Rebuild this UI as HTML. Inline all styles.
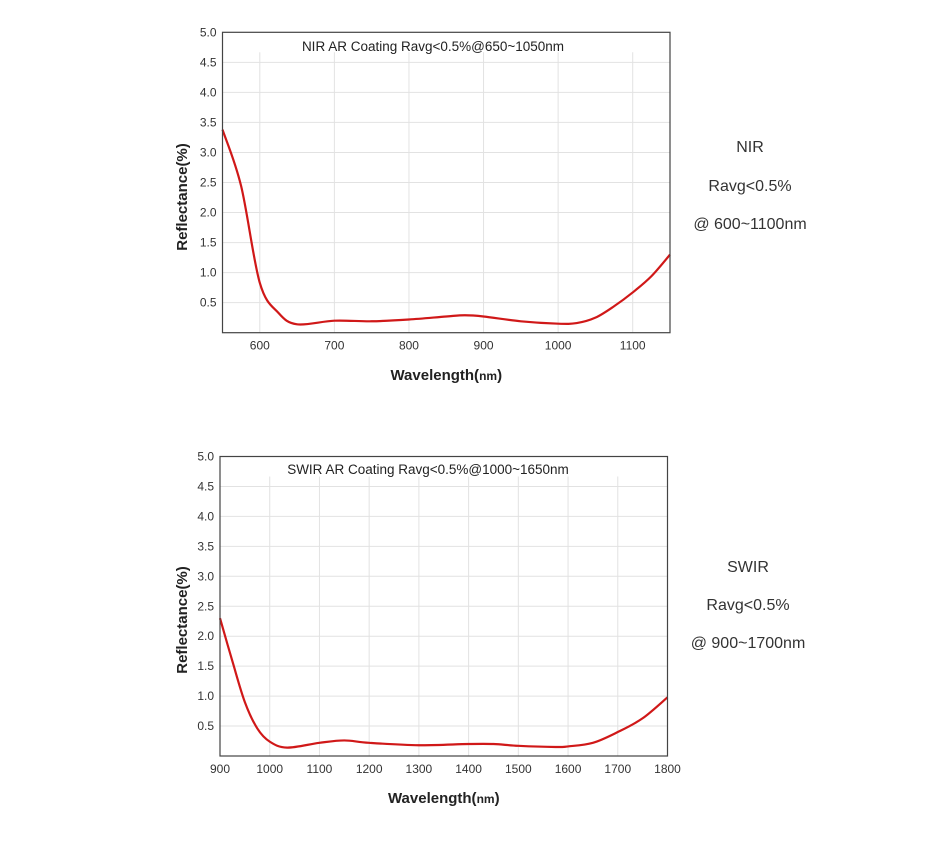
<!DOCTYPE html>
<html><head><meta charset="utf-8"><style>
body{margin:0;background:#fff;}
svg{display:block;font-family:"Liberation Sans",sans-serif;}
</style></head><body>
<svg id="root" width="948" height="846" viewBox="0 0 948 846">
<g id="c1"></g>
<g id="c2"></g>
<g font-size="16" fill="#333" text-anchor="middle">
<text x="750" y="152">NIR</text><text x="750" y="191">Ravg&lt;0.5%</text><text x="750" y="229">@ 600~1100nm</text></g>
<g font-size="16" fill="#333" text-anchor="middle">
<text x="748" y="572">SWIR</text><text x="748" y="610">Ravg&lt;0.5%</text><text x="748" y="648">@ 900~1700nm</text></g>
</svg>
<script>
const nirWl=[550,575,600,625,650,700,750,800,850,875,900,950,1000,1025,1050,1075,1100,1125,1150];
const nirR=[3.38,2.44,0.83,0.33,0.14,0.2,0.19,0.22,0.27,0.29,0.27,0.19,0.15,0.16,0.25,0.44,0.67,0.94,1.3];
const nirXTicks=[600,700,800,900,1000,1100];
const swirWl=[900,925,950,975,1000,1035,1100,1150,1200,1300,1400,1450,1500,1575,1600,1650,1700,1750,1800];
const swirR=[2.3,1.58,0.9,0.46,0.24,0.14,0.22,0.26,0.22,0.18,0.2,0.2,0.17,0.15,0.16,0.22,0.4,0.63,0.98];
const swirXTicks=[900,1000,1100,1200,1300,1400,1500,1600,1700,1800];
const yTicks=[0.5,1.0,1.5,2.0,2.5,3.0,3.5,4.0,4.5,5.0];
const NS='http://www.w3.org/2000/svg';
function mk(p,t,a){const e=document.createElementNS(NS,t);for(const k in a)e.setAttribute(k,a[k]);p.appendChild(e);return e;}
function draw(g,cfg){
 const {L,R,T,B,x0,x1,wl,r,xt,title,tx,ty,yTitleY,xTitleY}=cfg;
 const X=v=>L+(v-x0)/(x1-x0)*(R-L), Y=v=>B-v/5*(B-T);
 xt.forEach(v=>{if(v>x0&&v<x1){const l=mk(g,'line',{x1:X(v),x2:X(v),y1:T+20,y2:B,stroke:'#e2e2e2'});
 }});
 yTicks.forEach(v=>{if(v<5){const l=mk(g,'line',{x1:L,x2:R,y1:Y(v),y2:Y(v),stroke:'#e2e2e2'});
 }});
 yTicks.forEach(v=>{const t=mk(g,'text',{x:L-6,y:Y(v)+4,'text-anchor':'end','font-size':12,fill:'#333'});t.textContent=v.toFixed(1);
 });
 xt.forEach(v=>{const t=mk(g,'text',{x:X(v),y:B+17,'text-anchor':'middle','font-size':12,fill:'#333'});t.textContent=v;
 });
 const pts=wl.map((w,i)=>[X(w),Y(r[i])]);
 let d='M'+pts[0][0]+','+pts[0][1];
 for(let i=0;i<pts.length-1;i++){const p0=pts[Math.max(0,i-1)],p1=pts[i],p2=pts[i+1],p3=pts[Math.min(pts.length-1,i+2)];
  d+=' C'+(p1[0]+(p2[0]-p0[0])/6)+','+(p1[1]+(p2[1]-p0[1])/6)+' '+(p2[0]-(p3[0]-p1[0])/6)+','+(p2[1]-(p3[1]-p1[1])/6)+' '+p2[0]+','+p2[1];}
 const c=mk(g,'path',{d:d,fill:'none',stroke:'#d01818','stroke-width':2.2});
 
 const f=mk(g,'rect',{x:L,y:T,width:R-L,height:B-T,fill:'none',stroke:'#444','stroke-width':1.2});
 
 const ti=mk(g,'text',{x:tx,y:ty,'text-anchor':'middle','font-size':13.5,fill:'#222'});ti.textContent=title;
 
 const yt=mk(g,'text',{x:0,y:0,transform:'translate(187,'+yTitleY+') rotate(-90)','text-anchor':'middle','font-size':15,'font-weight':'bold',fill:'#222'});yt.textContent='Reflectance(%)';
 
 const xa=mk(g,'text',{x:(L+R)/2,y:xTitleY,'text-anchor':'middle','font-size':15,'font-weight':'bold',fill:'#222'});xa.innerHTML='Wavelength(<tspan font-size="12">nm</tspan>)';
 
}
draw(document.getElementById('c1'),{L:222.5,R:670,T:32.3,B:332.7,x0:550,x1:1150,wl:nirWl,r:nirR,xt:nirXTicks,title:'NIR AR Coating Ravg<0.5%@650~1050nm',tx:433,ty:51,yTitleY:197,xTitleY:380});
draw(document.getElementById('c2'),{L:220,R:667.5,T:456.5,B:756,x0:900,x1:1800,wl:swirWl,r:swirR,xt:swirXTicks,title:'SWIR AR Coating Ravg<0.5%@1000~1650nm',tx:428,ty:474,yTitleY:620,xTitleY:803});
</script>
</body></html>
